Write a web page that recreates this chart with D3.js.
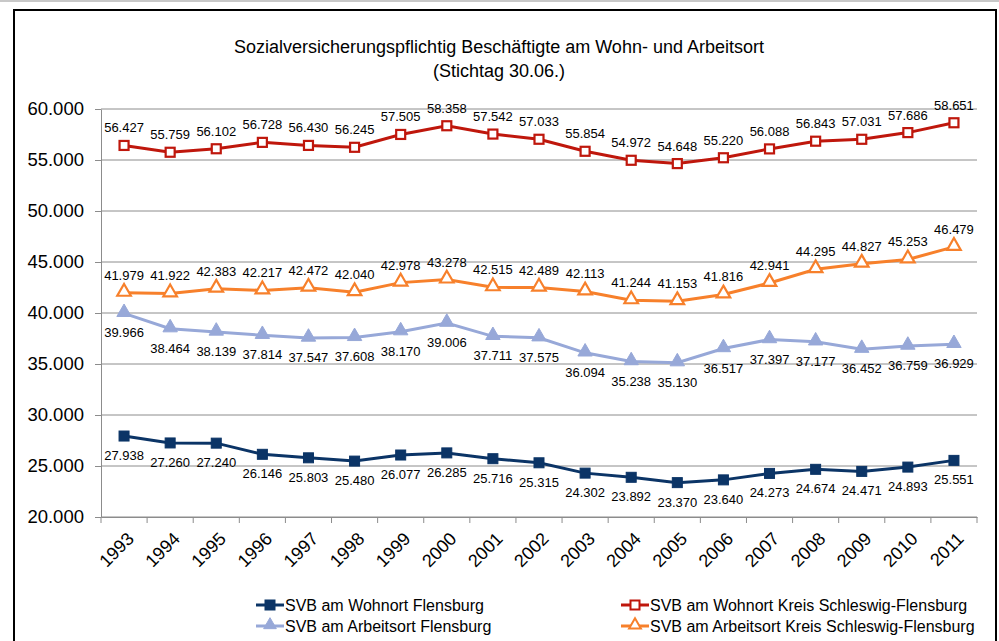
<!DOCTYPE html>
<html>
<head>
<meta charset="utf-8">
<script src="https://cdn.jsdelivr.net/npm/d3@7"></script>
<style>
  body { margin: 0; background: #fff; }
  svg { font-family: "Liberation Sans", Arial, sans-serif; }
</style>
</head>
<body>
<div id="chart"></div>
<script>
// data
var years = ['1993','1994','1995','1996','1997','1998','1999','2000','2001','2002',
             '2003','2004','2005','2006','2007','2008','2009','2010','2011'];
var wohnFL   = [27938,27260,27240,26146,25803,25480,26077,26285,25716,25315,24302,23892,23370,23640,24273,24674,24471,24893,25551];
var arbeitFL = [39966,38464,38139,37814,37547,37608,38170,39006,37711,37575,36094,35238,35130,36517,37397,37177,36452,36759,36929];
var wohnSL   = [56427,55759,56102,56728,56430,56245,57505,58358,57542,57033,55854,54972,54648,55220,56088,56843,57031,57686,58651];
var arbeitSL = [41979,41922,42383,42217,42472,42040,42978,43278,42515,42489,42113,41244,41153,41816,42941,44295,44827,45253,46479];
var yTicks = [20000,25000,30000,35000,40000,45000,50000,55000,60000];

var series = [
  {name: 'SVB am Wohnort Flensburg', values: wohnFL, color: '#0b3466', marker: 'square', fill: true, label: 'below'},
  {name: 'SVB am Arbeitsort Flensburg', values: arbeitFL, color: '#97a8d8', marker: 'triangle', fill: true, label: 'below'},
  {name: 'SVB am Wohnort Kreis Schleswig-Flensburg', values: wohnSL, color: '#bf170c', marker: 'square', fill: false, label: 'above'},
  {name: 'SVB am Arbeitsort Kreis Schleswig-Flensburg', values: arbeitSL, color: '#f7802b', marker: 'triangle', fill: false, label: 'above'}
];

var W = 999, H = 641;
var pLeft = 101, pRight = 977, pTop = 109, pBottom = 517;

var de = d3.formatLocale({decimal: ',', thousands: '.', grouping: [3], currency: ['', ' €']});
var fmt = de.format(',d');

var svg = d3.select('#chart').append('svg')
  .attr('width', W).attr('height', H);

// frame
svg.append('line').attr('x1', 0).attr('x2', W).attr('y1', 1).attr('y2', 1)
  .attr('stroke', '#c8c8c8').attr('stroke-width', 2);
svg.append('rect').attr('x', 14).attr('y', 10).attr('width', 982).attr('height', 660)
  .attr('fill', 'none').attr('stroke', '#000').attr('stroke-width', 2);

// title
svg.append('text').attr('x', 499).attr('y', 53).attr('text-anchor', 'middle')
  .attr('font-size', 18).text('Sozialversicherungspflichtig Beschäftigte am Wohn- und Arbeitsort');
svg.append('text').attr('x', 499).attr('y', 77).attr('text-anchor', 'middle')
  .attr('font-size', 18).text('(Stichtag 30.06.)');

var x = d3.scaleBand().domain(years).range([pLeft, pRight]);
var y = d3.scaleLinear().domain([20000, 60000]).range([pBottom, pTop]);

// grid
svg.append('g').selectAll('line').data(yTicks).join('line')
  .attr('x1', pLeft).attr('x2', pRight)
  .attr('y1', d => y(d)).attr('y2', d => y(d))
  .attr('stroke', '#8c8c8c').attr('stroke-width', 1);

// y axis
var yAxis = svg.append('g').attr('transform', 'translate(' + pLeft + ',0)')
  .call(d3.axisLeft(y).tickValues(yTicks).tickFormat(fmt).tickSize(6).tickSizeOuter(0).tickPadding(11));
yAxis.selectAll('text').attr('font-size', 18.5).attr('fill', '#000').attr('font-family', '"Liberation Sans", Arial, sans-serif');
yAxis.selectAll('line').attr('stroke', '#8c8c8c');
yAxis.select('.domain').attr('stroke', '#8c8c8c');

// x axis
var xAxis = svg.append('g').attr('transform', 'translate(0,' + pBottom + ')')
  .call(d3.axisBottom(x).tickSize(0).tickSizeOuter(0));
xAxis.select('.domain').attr('stroke', '#8c8c8c');
xAxis.selectAll('text')
  .attr('font-size', 18).attr('fill', '#000').attr('font-family', '"Liberation Sans", Arial, sans-serif')
  .attr('text-anchor', 'end')
  .attr('transform', 'translate(2,14) rotate(-45)')
  .attr('dy', '0.7em').attr('y', 0);
// ticks between categories
var bounds = years.map(d => x(d)).concat([pRight]);
svg.append('g').selectAll('line').data(bounds).join('line')
  .attr('x1', d => d).attr('x2', d => d)
  .attr('y1', pBottom).attr('y2', pBottom + 6)
  .attr('stroke', '#8c8c8c');

var cx = d => x(d) + x.bandwidth() / 2;
var line = d3.line().x((d, i) => cx(years[i])).y(d => y(d));

var tri = d3.symbol().type(d3.symbolTriangle);

series.forEach(function(s) {
  var g = svg.append('g');
  g.append('path').datum(s.values).attr('d', line)
    .attr('fill', 'none').attr('stroke', s.color).attr('stroke-width', 3);
  if (s.marker === 'square') {
    var sz = s.fill ? 10 : 9;
    g.selectAll('rect').data(s.values).join('rect')
      .attr('x', (d, i) => cx(years[i]) - sz / 2)
      .attr('y', d => y(d) - sz / 2)
      .attr('width', sz).attr('height', sz)
      .attr('fill', s.fill ? s.color : '#fff')
      .attr('stroke', s.color).attr('stroke-width', s.fill ? 1 : 2.2);
  } else {
    g.selectAll('path.m').data(s.values).join('path').attr('class', 'm')
      .attr('d', tri.size(s.fill ? 90 : 80))
      .attr('transform', (d, i) => 'translate(' + cx(years[i]) + ',' + (y(d) - 1) + ')')
      .attr('fill', s.fill ? s.color : '#fff')
      .attr('stroke', s.color).attr('stroke-width', s.fill ? 1 : 2.2);
  }
  g.selectAll('text').data(s.values).join('text')
    .attr('x', (d, i) => cx(years[i]))
    .attr('y', d => s.label === 'above' ? y(d) - 13 : y(d) + 24)
    .attr('text-anchor', 'middle')
    .attr('font-size', 13).attr('fill', '#000')
    .text(d => fmt(d));
});

// legend
var legend = [
  {s: series[0], x: 256, y: 605},
  {s: series[1], x: 256, y: 626},
  {s: series[2], x: 621, y: 605},
  {s: series[3], x: 621, y: 626}
];
legend.forEach(function(l) {
  var g = svg.append('g').attr('transform', 'translate(' + l.x + ',' + l.y + ')');
  g.append('line').attr('x1', 0).attr('x2', 28).attr('y1', 0).attr('y2', 0)
    .attr('stroke', l.s.color).attr('stroke-width', 3);
  if (l.s.marker === 'square') {
    var sz = l.s.fill ? 10 : 9;
    g.append('rect').attr('x', 14 - sz / 2).attr('y', -sz / 2).attr('width', sz).attr('height', sz)
      .attr('fill', l.s.fill ? l.s.color : '#fff').attr('stroke', l.s.color).attr('stroke-width', l.s.fill ? 1 : 2);
  } else {
    g.append('path').attr('d', tri.size(l.s.fill ? 70 : 60)).attr('transform', 'translate(14,-1)')
      .attr('fill', l.s.fill ? l.s.color : '#fff').attr('stroke', l.s.color).attr('stroke-width', l.s.fill ? 1 : 2);
  }
  g.append('text').attr('x', 29).attr('y', 5.5).attr('font-size', 16).attr('fill', '#000')
    .text(l.s.name);
});
</script>
</body>
</html>
